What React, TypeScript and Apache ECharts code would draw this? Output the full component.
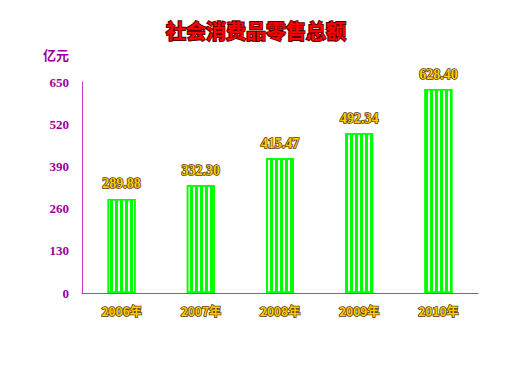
import React, { useEffect, useRef } from "react";
import * as echarts from "echarts";

const categories = ["2006年", "2007年", "2008年", "2009年", "2010年"];
const values = [289.88, 332.3, 415.47, 492.34, 628.4];
const yTicks = [0, 130, 260, 390, 520, 650];
const title = "社会消费品零售总额";
const unit = "亿元";

export default function App() {
  const ref = useRef<HTMLDivElement>(null);
  useEffect(() => {
    const chart = echarts.init(ref.current!, null, { renderer: "svg" });
    chart.setOption({
      animation: false,
      backgroundColor: "#ffffff",
      aria: { enabled: true, label: { enabled: false }, decal: { show: true } },
      title: {
        text: title,
        left: "center",
        top: 15,
        textStyle: {
          color: "#ff0000",
          fontSize: 20,
          fontWeight: "bold",
          fontFamily: "Noto Sans CJK SC",
          textBorderColor: "#550000",
          textBorderWidth: 2,
        },
      },
      graphic: [
        {
          type: "text",
          left: 43,
          top: 48,
          style: {
            text: unit,
            fill: "#990099",
            font: "bold 13px 'Noto Sans CJK SC'",
          },
        },
      ],
      grid: { left: 82, right: 34, top: 82, bottom: 91, containLabel: false },
      xAxis: {
        type: "category",
        data: categories,
        axisLine: { lineStyle: { color: "#cc33cc", width: 1 } },
        axisTick: { show: false },
        axisLabel: {
          margin: 11,
          color: "#ffcc00",
          fontSize: 12,
          fontWeight: "bold",
          fontFamily: "Noto Sans CJK SC",
          textBorderColor: "#5a3a00",
          textBorderWidth: 1.5,
        },
      },
      yAxis: {
        type: "value",
        min: yTicks[0],
        max: yTicks[yTicks.length - 1],
        interval: yTicks[1] - yTicks[0],
        axisLine: { show: true, lineStyle: { color: "#cc33cc", width: 1 } },
        axisTick: { show: false },
        splitLine: { show: false },
        axisLabel: {
          margin: 13,
          color: "#990099",
          fontSize: 13,
          fontWeight: "bold",
          fontFamily: "Liberation Serif",
        },
      },
      series: [
        {
          type: "bar",
          data: values,
          barWidth: 28,
          itemStyle: {
            color: "#ffffff",
            borderColor: "#00ff00",
            borderWidth: 1.5,
            decal: {
              symbol: "rect",
              symbolSize: 1,
              dashArrayX: [3, 1.5],
              dashArrayY: [10, 0],
              rotation: 0,
              color: "#00ff00",
              backgroundColor: "#ffffff",
            },
          },
          label: {
            show: true,
            position: "top",
            distance: 8,
            formatter: (p: any) => p.value.toFixed(2),
            color: "#ffcc00",
            fontSize: 14,
            fontWeight: "bold",
            fontFamily: "Liberation Serif",
            textBorderColor: "#5a3a00",
            textBorderWidth: 1.5,
          },
        },
      ],
    });
    return () => chart.dispose();
  }, []);
  return <div ref={ref} style={{ width: 512, height: 384, position: "absolute", left: 0, top: 0 }} />;
}
